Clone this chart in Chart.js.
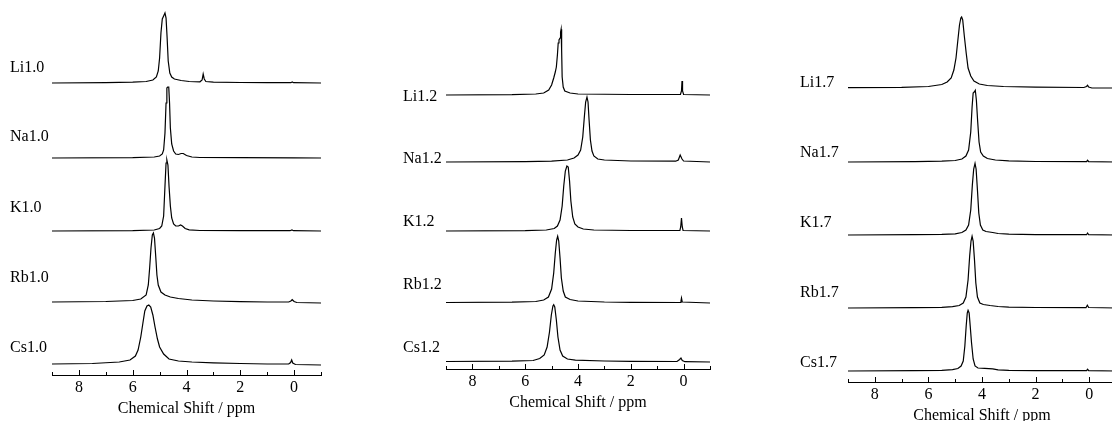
<!DOCTYPE html>
<html lang="en">
<head>
    <meta charset="UTF-8">
    <title>Chemical Shift spectra</title>
    <script src="https://cdn.jsdelivr.net/npm/chart.js"></script>
    <style>
        html, body {
            margin: 0;
            padding: 0;
            background: #fff;
            overflow: hidden;
            width: 1112px;
            height: 421px;
        }
        canvas {
            position: absolute;
            top: 0;
        }
    </style>
</head>
<body>
    <canvas id="c10" width="324" height="421" style="left:0px"></canvas>
    <canvas id="c12" width="343" height="415" style="left:370px"></canvas>
    <canvas id="c17" width="379" height="428" style="left:740px"></canvas>

    <script>
        // tick labels (ppm)
        const ppmTicks = [8, 6, 4, 2, 0];

        // sample names per panel
        const names10 = ['Li1.0', 'Na1.0', 'K1.0', 'Rb1.0', 'Cs1.0'];
        const names12 = ['Li1.2', 'Na1.2', 'K1.2', 'Rb1.2', 'Cs1.2'];
        const names17 = ['Li1.7', 'Na1.7', 'K1.7', 'Rb1.7', 'Cs1.7'];

        // spectra: [ppm, intensity]
        const li10 = [[9,0],[7,0.3],[6,0.8],[5.5,1.5],[5.25,3],[5.12,6],[5.05,12],[5.0,25],[4.95,50],[4.9,64],[4.85,67],[4.8,70],[4.76,65],[4.72,45],[4.68,22],[4.62,10],[4.55,6],[4.45,4],[4.2,2.5],[3.9,1.5],[3.5,1.2],[3.42,3],[3.38,9],[3.34,4],[3.28,1.5],[3.0,0.8],[2,0.5],[1,0.3],[0.12,0.3],[0.07,1],[0.02,0.3],[-1,0]];
        const na10 = [[9,0],[6,0.3],[5.2,1],[5.0,2],[4.9,4],[4.85,8],[4.8,25],[4.76,55],[4.73,70],[4.7,71],[4.66,71],[4.63,55],[4.6,30],[4.55,14],[4.48,7],[4.4,4],[4.3,3.5],[4.2,4.5],[4.12,4.5],[4.0,2.5],[3.8,1],[3.5,0.5],[2,0.3],[0,0.2],[-1,0]];
        const k10 = [[9,0],[6,0.3],[5.2,1],[5.0,2.5],[4.92,5],[4.85,15],[4.8,45],[4.76,68],[4.73,71],[4.69,66],[4.65,45],[4.6,25],[4.55,13],[4.48,7],[4.4,5],[4.3,5],[4.22,6],[4.15,5],[4.05,2.5],[3.9,1.2],[3.5,0.5],[2,0.3],[0.15,0.3],[0.08,1],[0.02,0.3],[-1,0]];
        const rb10 = [[9,1],[7,1.5],[6,2.5],[5.7,4],[5.5,8],[5.42,18],[5.37,35],[5.32,55],[5.27,68],[5.23,70],[5.19,65],[5.14,45],[5.1,28],[5.05,18],[4.95,11],[4.8,8],[4.6,6],[4.3,4.5],[3.8,3],[3,2],[2,1.3],[1,1],[0.2,1],[0.12,2],[0.07,3.3],[0.0,1.5],[-0.1,0.5],[-1,0]];
        const cs10 = [[9,1],[7.5,1.5],[6.5,3],[6.1,5],[5.9,9],[5.8,15],[5.7,28],[5.62,42],[5.55,54],[5.47,59],[5.4,60],[5.33,58],[5.25,50],[5.17,38],[5.08,26],[5.0,18],[4.85,11],[4.65,6],[4.3,4],[3.8,3],[3,2.2],[2,1.5],[1,1],[0.2,1],[0.13,2.5],[0.09,5],[0.05,2],[-0.05,0.5],[-1,0]];

        const li12 = [[9,0],[6.5,0.3],[5.6,1],[5.3,2],[5.11,5],[5.0,10],[4.92,17],[4.86,23],[4.82,28],[4.78,40],[4.75,52],[4.72,55],[4.68,57],[4.66,63],[4.64,65.7],[4.62,45],[4.6,18],[4.56,8],[4.5,4],[4.3,2],[4.0,1],[2,0.5],[0.12,0.5],[0.08,4],[0.06,14],[0.04,4],[0.0,0.5],[-1,0]];
        const na12 = [[9,0],[6,0.3],[5,0.8],[4.4,2],[4.15,4],[4.0,7],[3.9,12],[3.82,25],[3.76,45],[3.71,60],[3.66,65],[3.62,60],[3.58,42],[3.53,22],[3.47,11],[3.4,6],[3.25,3],[3.0,2],[2,1],[0.3,0.8],[0.2,2],[0.13,7],[0.06,3],[0,1],[-1,0]];
        const k12 = [[9,0],[6,0.3],[5.2,1],[4.9,2.5],[4.78,5],[4.68,11],[4.6,25],[4.54,45],[4.48,60],[4.42,65],[4.37,64],[4.32,50],[4.27,30],[4.2,14],[4.12,7],[4.0,4],[3.8,2],[3.4,1],[2,0.5],[0.14,0.5],[0.11,4],[0.08,13],[0.05,4],[0.02,0.5],[-1,0]];
        const rb12 = [[9,0.5],[6.5,0.8],[5.6,1.5],[5.3,3],[5.12,6],[5.0,14],[4.92,30],[4.86,50],[4.81,63],[4.77,66.7],[4.73,62],[4.68,45],[4.63,25],[4.56,12],[4.48,6],[4.3,3.5],[4.0,2],[3,1],[2,0.7],[0.13,0.5],[0.1,2],[0.08,5],[0.05,1],[-1,0]];
        const cs12 = [[9,0.5],[6.5,0.8],[5.7,1.5],[5.45,3.5],[5.28,7],[5.17,15],[5.08,30],[5.01,47],[4.95,56],[4.92,57.3],[4.88,55],[4.82,42],[4.76,25],[4.68,12],[4.58,6],[4.4,3],[4.1,1.8],[3,1],[2,0.7],[0.25,0.5],[0.15,2.5],[0.1,4],[0.05,1.5],[-0.05,0.3],[-1,0]];

        const li17 = [[9,0.3],[7,0.7],[6,1.5],[5.5,3.5],[5.3,6],[5.15,10],[5.05,18],[4.97,30],[4.9,48],[4.84,63],[4.79,70],[4.76,71],[4.72,68],[4.66,52],[4.59,35],[4.52,20],[4.42,12],[4.3,7],[4.1,4],[3.8,2.5],[3.2,1.5],[2,0.8],[0.2,0.5],[0.1,1.5],[0.06,2.7],[0.02,1],[-0.1,0],[-1,0]];
        const na17 = [[9,0],[6.5,0.3],[5.5,0.8],[5,1.5],[4.75,3],[4.6,6],[4.5,12],[4.42,30],[4.37,55],[4.33,69],[4.29,70],[4.25,71.7],[4.21,62],[4.16,40],[4.11,20],[4.05,10],[3.95,6],[3.8,3.5],[3.5,2],[3,1.2],[2,0.5],[0.1,0.3],[0.06,1.7],[0.02,0.3],[-1,0]];
        const k17 = [[9,0],[6.5,0.3],[5.5,0.7],[5,1.2],[4.75,2.5],[4.6,5],[4.5,10],[4.42,25],[4.36,50],[4.31,66],[4.26,71.7],[4.22,66],[4.17,45],[4.12,22],[4.06,10],[3.97,5],[3.85,3.5],[3.6,2.5],[3.4,1.5],[3,0.8],[2,0.4],[0.1,0.3],[0.06,2],[0.02,0.3],[-1,0]];
        const rb17 = [[9,0],[6.5,0.3],[5.5,0.7],[5.1,1.3],[4.85,2.5],[4.7,5],[4.6,11],[4.52,28],[4.46,52],[4.41,67],[4.37,71.7],[4.33,67],[4.28,48],[4.23,25],[4.17,11],[4.08,5],[3.95,3.5],[3.7,2.5],[3.4,1.5],[3,0.8],[2,0.5],[0.12,0.3],[0.07,2.7],[0.02,0.5],[-1,0]];
        const cs17 = [[9,0],[6.5,0.3],[5.5,0.7],[5.1,1.3],[4.9,2.5],[4.78,5],[4.7,10],[4.64,25],[4.59,45],[4.55,58],[4.52,60.7],[4.48,58],[4.44,45],[4.39,28],[4.33,12],[4.26,5],[4.15,3],[3.9,2.7],[3.6,2.2],[3.4,1.2],[3,0.7],[2,0.4],[0.1,0.3],[0.06,1.7],[0.02,0.3],[-1,0]];

        // vertical stacking offset of each trace (same units as intensity)
        const offsets10 = [292, 217, 144, 72, 10];
        const offsets12 = [274, 207, 138, 66, 7];
        const offsets17 = [294, 220, 147, 74, 11];

        // where the sample names sit, same units
        const labelAt10 = [307, 238, 167, 97, 27];
        const labelAt12 = [272, 210, 147, 84, 21];
        const labelAt17 = [299, 229, 159, 89, 19];

        const FONT = '"Liberation Serif", "Times New Roman", serif';

        // tick marks point up into the plot, long at labelled values
        const innerTicks = {
            id: 'innerTicks',
            afterDraw(chart) {
                const ctx = chart.ctx;
                const xs = chart.scales.x;
                const y0 = chart.chartArea.bottom;
                ctx.save();
                ctx.strokeStyle = '#000';
                ctx.lineWidth = 1;
                xs.ticks.forEach(t => {
                    const px = Math.round(xs.getPixelForValue(t.value)) + 0.5;
                    const len = ppmTicks.includes(t.value) ? 5 : 3;
                    ctx.beginPath();
                    ctx.moveTo(px, y0);
                    ctx.lineTo(px, y0 - len);
                    ctx.stroke();
                });
                ctx.restore();
            }
        };

        const sampleLabels = {
            id: 'sampleLabels',
            afterDraw(chart, args, opts) {
                const ctx = chart.ctx;
                const ys = chart.scales.y;
                ctx.save();
                ctx.font = '16px ' + FONT;
                ctx.fillStyle = '#000';
                ctx.textAlign = 'left';
                ctx.textBaseline = 'middle';
                opts.names.forEach((n, i) => {
                    ctx.fillText(n, chart.chartArea.left + opts.dx, ys.getPixelForValue(opts.at[i]));
                });
                ctx.restore();
            }
        };

        function dibujarPanel(id, names, spectra, offsets, labelAt, axisY, padLeft, dx) {
            const datasets = spectra.map((s, i) => ({
                label: names[i],
                data: s.map(p => ({ x: p[0], y: p[1] + offsets[i] })),
                borderColor: '#000',
                borderWidth: 1.2,
                pointRadius: 0,
                tension: 0,
                fill: false
            }));

            new Chart(document.getElementById(id), {
                type: 'line',
                data: { datasets: datasets },
                options: {
                    responsive: false,
                    animation: false,
                    devicePixelRatio: 1,
                    layout: { padding: { left: padLeft, right: 0, top: 0, bottom: 0 } },
                    plugins: {
                        legend: { display: false },
                        tooltip: { enabled: false },
                        sampleLabels: { names: names, at: labelAt, dx: dx }
                    },
                    scales: {
                        x: {
                            type: 'linear',
                            reverse: true,
                            min: -1,
                            max: 9,
                            afterFit: s => { s.height = 46; },
                            grid: { display: false, drawTicks: false },
                            border: { display: true, color: '#000', width: 1 },
                            ticks: {
                                stepSize: 1,
                                autoSkip: false,
                                maxRotation: 0,
                                padding: 3,
                                color: '#000',
                                font: { family: FONT, size: 16 },
                                callback: v => ppmTicks.includes(v) ? String(v) : ''
                            },
                            title: {
                                display: true,
                                text: 'Chemical Shift / ppm',
                                color: '#000',
                                font: { family: FONT, size: 16 },
                                padding: { top: 0, bottom: 3 }
                            }
                        },
                        y: {
                            display: false,
                            min: 0,
                            max: axisY
                        }
                    }
                },
                plugins: [innerTicks, sampleLabels]
            });
        }

        dibujarPanel('c10', names10, [li10, na10, k10, rb10, cs10], offsets10, labelAt10, 375, 52, -42);
        dibujarPanel('c12', names12, [li12, na12, k12, rb12, cs12], offsets12, labelAt12, 369, 76, -43);
        dibujarPanel('c17', names17, [li17, na17, k17, rb17, cs17], offsets17, labelAt17, 382, 108, -48);
    </script>
</body>
</html>
